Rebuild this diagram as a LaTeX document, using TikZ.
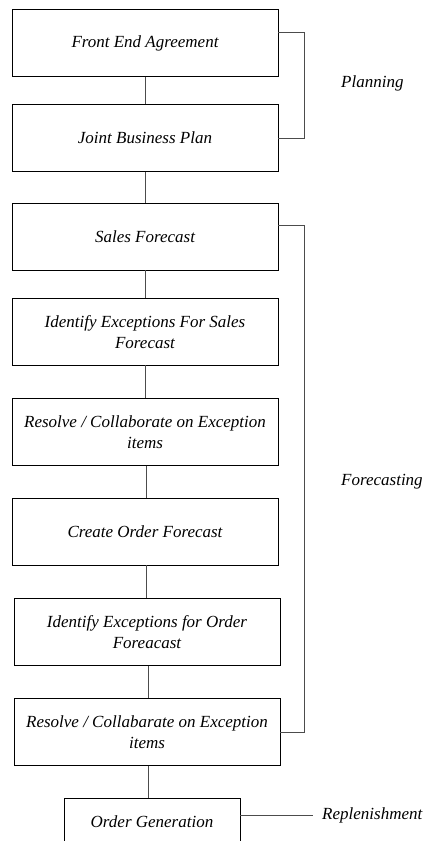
\documentclass[tikz,border=0pt]{standalone}
\usepackage{fontspec}
\setmainfont{Liberation Serif}
\begin{document}
\begin{tikzpicture}[x=1pt,y=-1pt,
  stepbox/.style={draw=black,line width=0.9pt,minimum width=266pt,minimum height=66.5pt,
    inner sep=2pt,align=center,font=\fontsize{17}{21}\selectfont\itshape},
  lbl/.style={anchor=west,inner sep=0pt,font=\fontsize{17}{21}\selectfont\itshape},
  conn/.style={draw=black!70,line width=0.9pt}]
\useasboundingbox (0,0) rectangle (443,841);
\clip (0,0) rectangle (443,841);
\node[stepbox] (fea) at (145,43) {Front End Agreement};
\node[stepbox] (jbp) at (145,138) {Joint Business Plan};
\node[stepbox] (sf) at (145,236.7) {Sales Forecast};
\node[stepbox] (ies) at (145,331.7) {Identify Exceptions For Sales\\Forecast};
\node[stepbox] (rce) at (145,432) {Resolve / Collaborate on Exception\\items};
\node[stepbox] (cof) at (145,531.7) {Create Order Forecast};
\node[stepbox] (ieo) at (147,632) {Identify Exceptions for Order\\Foreacast};
\node[stepbox] (rco) at (147,732) {Resolve / Collabarate on Exception\\items};
\node[stepbox,minimum width=176pt,minimum height=48pt] (og) at (152,822) {Order Generation};
\node[lbl] (plan) at (341,83) {Planning};
\node[lbl] (fc) at (341,482) {Forecasting};
\node[lbl] (rep) at (322,815) {Replenishment};
\draw[conn] (fea.south) -- (fea.south |- jbp.north);
\draw[conn] (jbp.south) -- (jbp.south |- sf.north);
\draw[conn] (sf.south) -- (sf.south |- ies.north);
\draw[conn] (ies.south) -- (ies.south |- rce.north);
\draw[conn] ([xshift=1.7pt]rce.south) -- ([xshift=1.7pt]rce.south |- cof.north);
\draw[conn] ([xshift=1.7pt]cof.south) -- ([xshift=1.7pt]cof.south |- ieo.north);
\draw[conn] ([xshift=1pt]ieo.south) -- ([xshift=1pt]ieo.south |- rco.north);
\draw[conn] ([xshift=1pt]rco.south) -- ([xshift=1pt]rco.south |- og.north);
\draw[conn] ([yshift=11pt]fea.east) -| (304,138) -- (jbp.east);
\draw[conn] ([yshift=11.7pt]sf.east) -| (304,732) -- (rco.east);
\draw[conn,shorten >=9pt] ([yshift=7pt]og.east) -- ([yshift=7pt]og.east -| rep.west);
\end{tikzpicture}
\end{document}
